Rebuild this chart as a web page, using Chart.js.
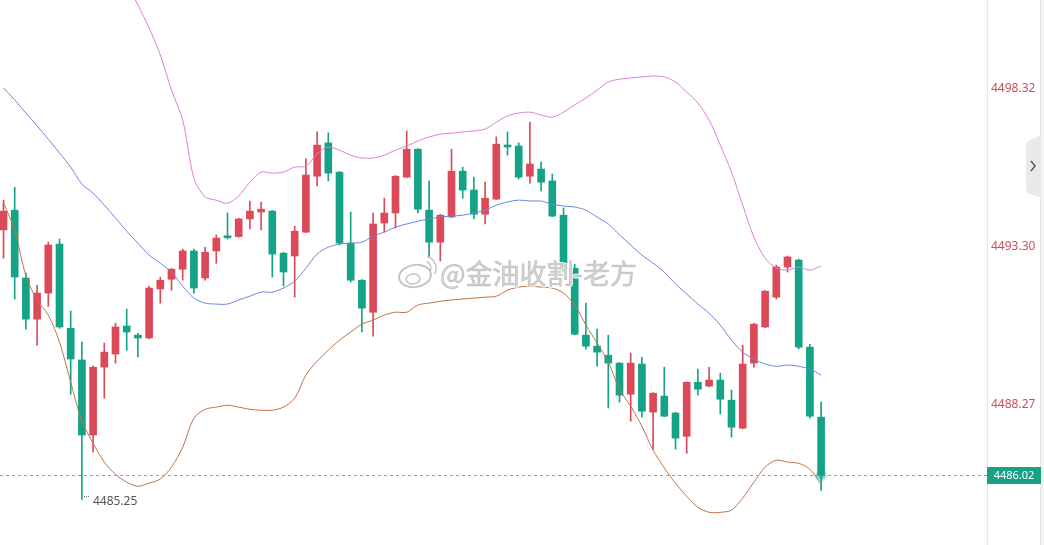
<!DOCTYPE html>
<html><head><meta charset="utf-8">
<script src="https://cdn.jsdelivr.net/npm/chart.js@4.4.1/dist/chart.umd.min.js"></script>
<style>html,body{margin:0;padding:0;background:#fff;overflow:hidden}#wrap{width:1044px;height:545px;position:relative}canvas{display:block}</style>
</head><body><div id="wrap"><canvas id="c" width="1044" height="545"></canvas></div>
<script>
// ---- data ----
const opens = [4493.83,4494.46,4492.30,4490.99,4491.82,4493.38,4490.70,4489.69,4487.30,4489.46,
4489.88,4490.77,4490.48,4490.39,4491.95,4492.26,4492.58,4493.16,4492.30,4493.16,
4493.63,4493.62,4494.18,4494.40,4494.43,4493.09,4493.00,4493.76,4495.54,4496.60,
4495.67,4493.41,4492.23,4491.21,4494.05,4494.37,4495.51,4496.40,4494.46,4493.44,
4494.24,4495.70,4495.10,4494.33,4494.81,4496.53,4496.50,4495.54,4495.77,4495.39,
4494.30,4492.61,4490.48,4490.13,4489.84,4489.59,4488.60,4489.56,4488.03,4488.54,
4488.00,4487.26,4488.98,4488.86,4489.05,4488.41,4487.52,4489.59,4490.74,4491.69,
4492.65,4492.87,4490.10,4487.87];
const highs = [4494.78,4495.19,4492.46,4492.07,4493.44,4493.54,4491.25,4490.26,4489.50,4490.23,
4490.86,4491.31,4490.54,4492.04,4492.33,4492.61,4493.22,4493.22,4493.28,4493.67,
4494.37,4494.20,4494.75,4494.72,4494.45,4493.12,4493.95,4496.09,4496.95,4496.92,
4495.69,4494.40,4492.25,4494.37,4494.84,4495.56,4496.98,4496.42,4495.39,4494.33,
4496.40,4495.83,4495.51,4495.35,4496.79,4496.95,4496.60,4497.26,4495.99,4495.61,
4494.53,4492.74,4491.50,4490.67,4490.48,4489.61,4489.91,4489.78,4488.65,4489.46,
4488.03,4489.00,4489.40,4489.46,4489.27,4488.73,4490.16,4490.86,4491.90,4492.71,
4493.00,4492.90,4490.19,4488.35];
const lows = [4492.93,4491.63,4490.67,4490.16,4491.40,4490.70,4488.60,4485.25,4486.76,4488.47,
4489.59,4490.00,4489.78,4490.36,4491.50,4491.91,4492.23,4491.82,4492.23,4492.77,
4493.54,4493.60,4493.86,4493.83,4492.33,4492.04,4491.69,4493.74,4495.23,4495.39,
4493.35,4492.17,4490.58,4490.45,4493.76,4493.89,4495.49,4494.37,4492.97,4492.84,
4494.22,4494.84,4494.18,4494.02,4494.79,4496.21,4495.45,4495.32,4495.07,4494.25,
4492.49,4490.49,4490.04,4489.49,4488.16,4488.35,4487.74,4487.87,4486.85,4487.88,
4486.85,4486.72,4488.57,4488.83,4487.97,4487.23,4487.50,4489.46,4490.72,4491.63,
4492.49,4490.04,4487.84,4485.54];
const closes = [4494.43,4492.33,4490.99,4491.82,4493.35,4490.74,4489.72,4487.30,4489.46,4489.94,
4490.74,4490.58,4490.39,4491.98,4492.23,4492.58,4493.16,4491.98,4493.12,4493.57,
4493.58,4494.18,4494.43,4494.49,4493.06,4492.49,4493.79,4495.58,4496.53,4495.64,
4493.41,4492.23,4491.34,4494.02,4494.37,4495.54,4496.40,4494.49,4493.44,4494.30,
4495.70,4495.10,4494.33,4494.84,4496.56,4496.47,4495.51,4495.93,4495.35,4494.27,
4492.55,4490.51,4490.13,4489.94,4489.59,4488.57,4489.59,4488.06,4488.63,4487.90,
4487.20,4488.98,4488.76,4489.05,4488.44,4487.55,4489.56,4490.83,4491.88,4492.65,
4492.97,4490.10,4487.90,4486.02];
const upperBand = [null,null,null,null,null,null,null,null,null,null,
4502.42,4501.69,4500.99,4500.26,4499.40,4498.28,4497.33,4495.48,4494.88,4494.78,
4494.68,4494.91,4495.35,4495.67,4495.64,4495.67,4495.83,4495.86,4496.25,4496.47,
4496.37,4496.21,4496.12,4496.12,4496.21,4496.37,4496.50,4496.66,4496.79,4496.88,
4496.91,4496.95,4496.98,4497.04,4497.26,4497.46,4497.55,4497.58,4497.49,4497.42,
4497.58,4497.81,4498.03,4498.28,4498.54,4498.63,4498.67,4498.70,4498.73,4498.70,
4498.54,4498.22,4497.87,4497.33,4496.53,4495.67,4494.62,4493.60,4492.93,4492.62,
4492.55,4492.65,4492.55,4492.68];
const middleBand = [4498.35,4497.97,4497.55,4497.14,4496.72,4496.28,4495.83,4495.29,4495.00,4494.62,
4494.21,4493.79,4493.41,4493.03,4492.77,4492.49,4492.04,4491.66,4491.50,4491.47,
4491.47,4491.60,4491.72,4491.85,4491.85,4491.98,4492.20,4492.61,4493.06,4493.28,
4493.38,4493.41,4493.44,4493.63,4493.76,4493.92,4494.02,4494.11,4494.18,4494.24,
4494.27,4494.30,4494.37,4494.46,4494.62,4494.72,4494.78,4494.75,4494.75,4494.65,
4494.59,4494.56,4494.46,4494.24,4494.02,4493.67,4493.35,4493.03,4492.77,4492.49,
4492.11,4491.79,4491.47,4491.18,4490.80,4490.32,4489.94,4489.72,4489.56,4489.49,
4489.53,4489.49,4489.40,4489.21];
const lowerBand = [4494.69,4493.83,4492.36,4491.60,4491.12,4490.26,4488.98,4487.74,4487.04,4486.44,
4486.05,4485.80,4485.67,4485.77,4485.90,4486.28,4486.91,4487.84,4488.12,4488.19,
4488.25,4488.19,4488.12,4488.09,4488.09,4488.19,4488.47,4489.21,4489.65,4490.00,
4490.32,4490.58,4490.83,4490.96,4491.12,4491.21,4491.21,4491.44,4491.50,4491.56,
4491.60,4491.63,4491.66,4491.69,4491.72,4491.91,4492.01,4492.04,4492.01,4491.98,
4491.82,4491.44,4490.80,4490.23,4489.62,4488.76,4488.22,4487.58,4486.82,4486.25,
4485.77,4485.35,4485.00,4484.84,4484.84,4484.91,4485.29,4485.80,4486.28,4486.50,
4486.44,4486.40,4486.21,4485.74];
const priceTicks = [4488.27, 4493.30, 4498.32];
const watermarkText = '@金油收割-老方';

// ---- styling ----
const RED = '#dc4a5a', GREEN = '#14a386';
const N = closes.length;
const idx = closes.map((_, i) => i);
const candleColors = idx.map(i => closes[i] >= opens[i] ? RED : GREEN);

const overlay = {
  id: 'overlay',
  afterDatasetsDraw(chart) {
    const {ctx, chartArea: ca, scales: {x, y}} = chart;
    ctx.save();
    // watermark
    const wx = 440, wy = 284;
    ctx.font = '27px "Noto Sans CJK SC"';
    ctx.textBaseline = 'alphabetic';
    ctx.lineJoin = 'round';
    ctx.strokeStyle = 'rgba(255,255,255,0.9)';
    ctx.lineWidth = 3;
    ctx.strokeText(watermarkText, wx, wy);
    ctx.fillStyle = 'rgba(208,208,208,0.95)';
    ctx.fillText(watermarkText, wx, wy);
    ctx.strokeStyle = 'rgba(165,165,165,0.55)';
    ctx.lineWidth = 0.7;
    ctx.strokeText(watermarkText, wx, wy);
    // weibo-like logo
    ctx.strokeStyle = 'rgba(190,190,190,0.9)';
    ctx.lineWidth = 2;
    ctx.beginPath(); ctx.ellipse(415, 276, 16, 11, -0.15, 0, Math.PI * 2); ctx.stroke();
    ctx.lineWidth = 1.5;
    ctx.beginPath(); ctx.ellipse(413, 279, 7, 5, -0.1, 0, Math.PI * 2); ctx.stroke();
    ctx.beginPath(); ctx.arc(424, 268, 7, -1.2, 0.4); ctx.stroke();
    ctx.beginPath(); ctx.arc(424, 268, 12, -1.3, 0.5); ctx.stroke();

    // current price dashed line
    const last = closes[N - 1];
    const py = Math.round(y.getPixelForValue(last)) + 0.5;
    ctx.strokeStyle = '#4fc2a9';
    ctx.lineWidth = 1;
    ctx.setLineDash([3, 3]);
    ctx.beginPath(); ctx.moveTo(ca.left, py); ctx.lineTo(ca.right, py); ctx.stroke();
    ctx.setLineDash([]);
    // glow at last candle
    const lx = x.getPixelForValue(N - 1);
    const g = ctx.createRadialGradient(lx, py, 0, lx, py, 7);
    g.addColorStop(0, 'rgba(20,163,134,0.9)');
    g.addColorStop(1, 'rgba(20,163,134,0)');
    ctx.fillStyle = g;
    ctx.beginPath(); ctx.arc(lx, py, 7, 0, Math.PI * 2); ctx.fill();

    // min low label
    let mi = 0;
    lows.forEach((v, i) => { if (v < lows[mi]) mi = i; });
    const mx = x.getPixelForValue(mi), my = y.getPixelForValue(lows[mi]);
    ctx.fillStyle = '#777';
    for (let k = 0; k < 3; k++) ctx.fillRect(Math.round(mx) + 2 + k * 2, Math.round(my) - 3, 1, 1);
    ctx.fillStyle = '#555';
    ctx.font = '12px "Noto Sans"';
    ctx.textBaseline = 'middle';
    ctx.textAlign = 'left';
    ctx.fillText(lows[mi].toFixed(2), mx + 11, my + 2);

    // right side decorations
    ctx.fillStyle = '#f3f3f3';
    ctx.fillRect(1041, 0, 3, 545);
    ctx.strokeStyle = '#e3e3e3';
    ctx.lineWidth = 1;
    ctx.beginPath(); ctx.moveTo(1040.5, 0); ctx.lineTo(1040.5, 545); ctx.stroke();
    // tab
    ctx.fillStyle = '#e9e9eb';
    ctx.beginPath();
    ctx.moveTo(1041, 135); ctx.lineTo(1030, 140); ctx.quadraticCurveTo(1026, 142, 1026, 146);
    ctx.lineTo(1026, 188); ctx.quadraticCurveTo(1026, 192, 1030, 194); ctx.lineTo(1041, 198);
    ctx.closePath(); ctx.fill();
    ctx.strokeStyle = '#555';
    ctx.lineWidth = 1.4;
    ctx.beginPath(); ctx.moveTo(1031, 161); ctx.lineTo(1035, 166); ctx.lineTo(1031, 171); ctx.stroke();

    // price tag
    ctx.fillStyle = GREEN;
    ctx.fillRect(ca.right, py - 8.5, 54, 17);
    ctx.fillStyle = '#ffffff';
    ctx.font = '11px "Noto Sans"';
    ctx.textAlign = 'center';
    ctx.textBaseline = 'middle';
    ctx.fillText(last.toFixed(2), ca.right + 27, py + 0.5);
    ctx.restore();
  }
};

const lineDs = (label, arr, color) => ({
  type: 'line', label, data: idx.map(i => ({x: i, y: arr[i]})),
  borderColor: color, borderWidth: 1, pointRadius: 0, tension: 0.3, order: 0, fill: false
});

new Chart(document.getElementById('c'), {
  data: {
    datasets: [
      lineDs('Upper', upperBand, '#dc7fd8'),
      lineDs('Middle', middleBand, '#6b86dc'),
      lineDs('Lower', lowerBand, '#bf7244'),
      { type: 'bar', label: 'Wick', data: idx.map(i => ({x: i, y: [lows[i], highs[i]]})),
        backgroundColor: candleColors, barThickness: 1, grouped: false, order: 2 },
      { type: 'bar', label: 'Body', data: idx.map(i => ({x: i, y: [Math.min(opens[i], closes[i]), Math.max(opens[i], closes[i])]})),
        backgroundColor: candleColors, barThickness: 7, grouped: false, minBarLength: 2, order: 1 }
    ]
  },
  options: {
    responsive: false, animation: false,
    layout: { padding: 0 },
    plugins: { legend: { display: false }, tooltip: { enabled: false } },
    scales: {
      x: { type: 'linear', min: -0.3125, max: 87.8125, display: false, offset: false },
      y: {
        position: 'right', min: 4483.80, max: 4501.15,
        afterFit(s) { s.width = 57; s.paddingTop = 0; s.paddingBottom = 0; },
        afterBuildTicks(s) { s.ticks = priceTicks.map(v => ({ value: v })); },
        grid: { display: false, drawTicks: false },
        border: { display: true, color: '#e6e6e6' },
        ticks: { padding: 4, color: '#c9505c', font: { family: 'Noto Sans', size: 12 }, callback: v => v.toFixed(2) }
      }
    }
  },
  plugins: [overlay]
});
</script>
</body></html>
